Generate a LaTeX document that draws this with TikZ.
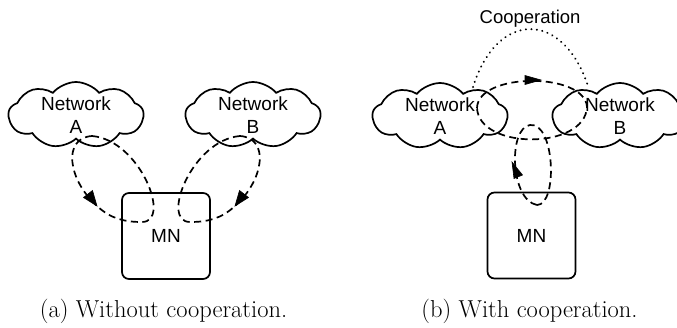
\documentclass[tikz,border=0pt]{standalone}
\usepackage{fontspec}
\newfontfamily\netfont{Liberation Sans}
\usetikzlibrary{shapes.symbols}

\begin{document}
\begin{tikzpicture}[x=1pt,y=-1pt,
  net/.style={cloud, cloud puffs=9, cloud puff arc=100, cloud ignores aspect,
    draw, line width=1.7pt, fill=white, minimum width=135pt, minimum height=66pt,
    inner sep=0pt, align=center, font=\netfont\fontsize{19}{23}\selectfont},
  mnbox/.style={draw, rounded corners=7pt, line width=1.7pt, fill=white,
    minimum width=88pt, minimum height=86pt, font=\netfont\fontsize{19}{23}\selectfont},
  flow/.style={line width=1.7pt, dash pattern=on 7pt off 4.5pt},
  coop/.style={line width=2.2pt, dash pattern=on 0.01pt off 5.5pt, line cap=round},
  headtip/.style={fill=black, draw=black, line width=0.6pt, line join=miter},
  caption/.style={anchor=base, inner sep=0pt, font=\fontsize{24.5}{28}\selectfont}
]
\useasboundingbox (0,0) rectangle (677,327);

% ---- (a) without cooperation ----
\node[net] (na) at (76,115) {Network\\A};
\node[net] (nb) at (253,115) {Network\\B};
\node[mnbox] (mn) at (166,236) {MN};

% loop between network A and the mobile node
\coordinate (a1) at (92,136);
\coordinate (ta) at (97,206);
\coordinate (a2) at (142,222);
\draw[flow] (a1) .. controls (62,138) and (68,180) .. (ta)
               .. controls (111,219) and (125,222) .. (a2)
               .. controls (172,222) and (140,140) .. (a1);
\filldraw[headtip] (ta) -- (92.5,190.5) -- (83.5,197.5) -- cycle;

% loop between network B and the mobile node
\coordinate (b1) at (240,136);
\coordinate (tb) at (235,206);
\coordinate (b2) at (190,222);
\draw[flow] (b1) .. controls (270,138) and (264,180) .. (tb)
               .. controls (221,219) and (207,222) .. (b2)
               .. controls (160,222) and (192,140) .. (b1);
\filldraw[headtip] (tb) -- (239.5,190.5) -- (248.5,197.5) -- cycle;

\node[caption] (capa) at (163.5,317) {(a) Without cooperation.};

% ---- (b) with cooperation ----
\node[net] (nc) at (440,116) {Network\\A};
\node[net] (nd) at (620,116) {Network\\B};
\node[mnbox] (mn2) at (531.5,235.5) {MN};

\coordinate (c1) at (473,87);
\coordinate (c2) at (588,86);
\draw[coop] (c1) .. controls (497,10) and (563,10) .. node[midway, above=1pt, inner sep=0pt,
  font=\netfont\fontsize{18.5}{22}\selectfont] (coopl) {Cooperation} (c2);

% loop between the two networks
\coordinate (l1) at (477,108);
\coordinate (r1) at (587,107);
\coordinate (tc) at (541,80);
\draw[flow] (l1) .. controls (478,72) and (585,72) .. (r1)
               .. controls (585,150) and (479,150) .. (l1);
\filldraw[headtip] (tc) -- (525,75.5) -- (525,84.5) -- cycle;

% loop between the mobile node and the networks
\coordinate (m1) at (537,205);
\coordinate (m2) at (530,125);
\coordinate (td) at (512,162);
\draw[flow] (m1) .. controls (510,200) and (508,128) .. (m2)
               .. controls (555,122) and (558,205) .. (m1);
\filldraw[headtip] (td) -- (522.5,175) -- (514,178.5) -- cycle;

\node[caption] (capb) at (529.5,317) {(b) With cooperation.};
\end{tikzpicture}
\end{document}
